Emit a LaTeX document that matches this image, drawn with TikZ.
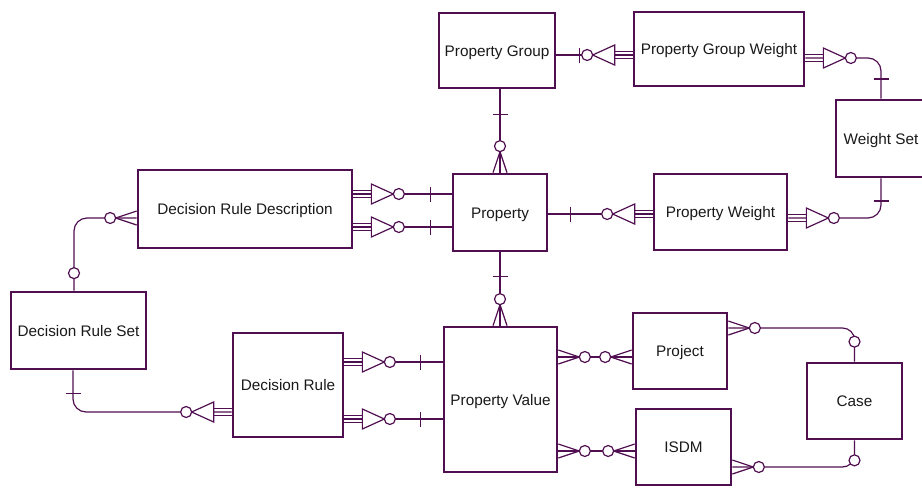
\documentclass[tikz,border=0pt]{standalone}
\usepackage{fontspec}
\setmainfont{Liberation Sans}
\usetikzlibrary{calc}
\definecolor{erline}{RGB}{80,15,80}
\begin{document}
\begin{tikzpicture}[x=1pt,y=-1pt,
  ent/.style={draw=erline, line width=2.7pt, fill=white, inner sep=0pt,
    text height=11pt, text depth=0pt,
    font=\fontsize{15.3}{18}\selectfont, text=black!90},
  conn/.style={draw=erline, line width=1.2pt},
  % many side drawn as triple line + open triangle + ring
  tmany/.pic={
    \draw[conn] (0,-3.4)--(18,-3.4) (0,3.4)--(18,3.4);
    \draw[conn,fill=white] (18,-10)--(18,10)--(40,0)--cycle;
    \draw[conn,fill=white] (45.5,0) circle (5.5);
  },
  % zero-or-many crow's foot
  crow/.pic={
    \draw[conn] (0,-7)--(21,0)--(0,7);
    \draw[conn,fill=white] (26.5,0) circle (5.5);
  },
  ring/.pic={\draw[conn,fill=white] (20,0) circle (5.5);},
  bar/.pic={\draw[conn] (0,-7.5)--(0,7.5);}
]
\useasboundingbox (0,0) rectangle (922,491);

% entities
\node[ent, minimum width=116, minimum height=75] (pg)  at (497,50.5) {Property Group};
\node[ent, minimum width=170, minimum height=74] (pgw) at (719,49) {Property Group Weight};
\node[ent, minimum width=90,  minimum height=77] (ws)  at (881,138.5) {Weight Set};
\node[ent, minimum width=214, minimum height=78] (drd) at (245,209) {Decision Rule Description};
\node[ent, minimum width=94,  minimum height=77] (prop) at (500,212.5) {Property};
\node[ent, minimum width=133, minimum height=76] (pw)  at (720.5,212) {Property Weight};
\node[ent, minimum width=135, minimum height=77] (drs) at (78.5,330.5) {Decision Rule Set};
\node[ent, minimum width=110, minimum height=104] (dr) at (288,385) {Decision Rule};
\node[ent, minimum width=113, minimum height=145] (pv) at (500.5,399.5) {Property Value};
\node[ent, minimum width=94,  minimum height=76] (proj) at (680,351) {Project};
\node[ent, minimum width=95,  minimum height=76] (isdm) at (683.5,447) {ISDM};
\node[ent, minimum width=95,  minimum height=76] (case) at (854.5,401) {Case};

% Property Group -- Property Group Weight
\draw[conn] (pg.east|-0,55) -- (pgw.west|-0,55);
\pic at ($(pg.east|-0,55)+(23,0)$) {bar};
\pic[rotate=180] at (pgw.west|-0,55) {tmany};

% Property Group Weight -- Weight Set
\draw[conn, rounded corners=13] (pgw.east|-0,58) -| (ws.north);
\pic at (pgw.east|-0,58) {tmany};
\pic[rotate=90] at (ws.north|-0,79) {bar};

% Property Group -- Property
\draw[conn] (pg.south-|prop.north) -- (prop.north);
\pic[rotate=90] at ($(pg.south-|prop.north)+(0,25)$) {bar};
\pic[rotate=90] at (prop.north) {crow};

% Decision Rule Description -- Property (two links)
\foreach \yy in {194,227}{
  \draw[conn] (drd.east|-0,\yy) -- (prop.west|-0,\yy);
  \pic at (drd.east|-0,\yy) {tmany};
  \pic at ($(prop.west|-0,\yy)+(-21,0)$) {bar};
}

% Property -- Property Weight
\draw[conn] (prop.east|-0,214) -- (pw.west|-0,214);
\pic at ($(prop.east|-0,214)+(22,0)$) {bar};
\pic[rotate=180] at (pw.west|-0,214) {tmany};

% Property Weight -- Weight Set
\draw[conn, rounded corners=13] (pw.east|-0,218) -| (ws.south);
\pic at (pw.east|-0,218) {tmany};
\pic[rotate=90] at (ws.south|-0,201) {bar};

% Decision Rule Description -- Decision Rule Set
\coordinate (drsT) at ($(drs.north)+(-4.5,0)$);
\draw[conn, rounded corners=13] (drd.west|-0,218) -| (drsT);
\pic[rotate=180] at (drd.west|-0,218) {crow};
\pic[rotate=90] at ($(drsT)+(0,2.5)$) {ring};

% Decision Rule Set -- Decision Rule
\coordinate (drsB) at ($(drs.south)+(-5.5,0)$);
\draw[conn, rounded corners=13] (drsB) |- (dr.west|-0,412);
\pic[rotate=90] at ($(drsB)+(0,23)$) {bar};
\pic[rotate=180] at (dr.west|-0,412) {tmany};

% Decision Rule -- Property Value (two links)
\foreach \yy in {362,419}{
  \draw[conn] (dr.east|-0,\yy) -- (pv.west|-0,\yy);
  \pic at (dr.east|-0,\yy) {tmany};
  \pic at ($(pv.west|-0,\yy)+(-22,0)$) {bar};
}

% Property -- Property Value
\draw[conn] (prop.south) -- (prop.south|-pv.north);
\pic[rotate=90] at ($(prop.south)+(0,24)$) {bar};
\pic[rotate=90] at (prop.south|-pv.north) {crow};

% Property Value -- Project / ISDM
\draw[conn] (pv.east|-0,357) -- (proj.west|-0,357);
\pic at (pv.east|-0,357) {crow};
\pic[rotate=180] at (proj.west|-0,357) {crow};
\draw[conn] (pv.east|-0,451) -- (isdm.west|-0,451);
\pic at (pv.east|-0,451) {crow};
\pic[rotate=180] at (isdm.west|-0,451) {crow};

% Project / ISDM -- Case
\draw[conn, rounded corners=12] (proj.east|-0,328) -| (case.north);
\pic at (proj.east|-0,328) {crow};
\pic[rotate=90] at (case.north) {ring};
\draw[conn, rounded corners=12] (isdm.east|-0,467) -| (case.south);
\pic at (isdm.east|-0,467) {crow};
\pic[rotate=-90] at (case.south) {ring};
\end{tikzpicture}
\end{document}
